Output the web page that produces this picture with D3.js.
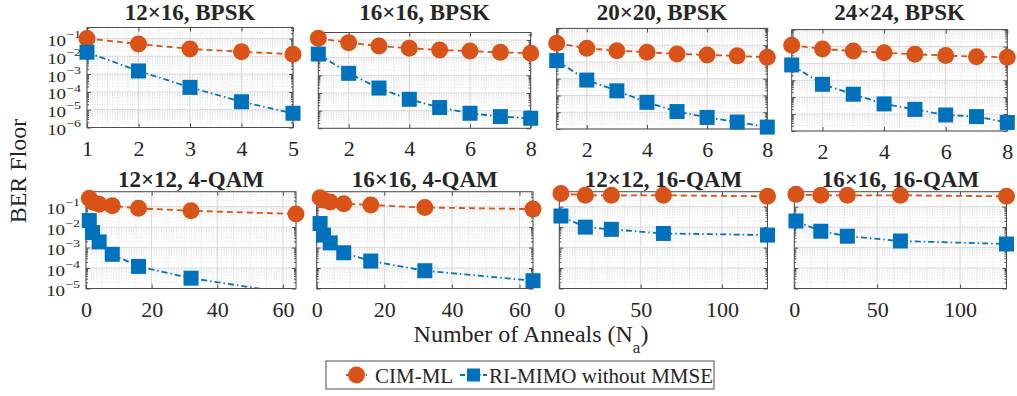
<!DOCTYPE html>
<html>
<head>
<meta charset="utf-8">
<script src="https://cdn.jsdelivr.net/npm/d3@7"></script>
<style>
body { margin: 0; background: #fff; }
svg text { font-family: "Liberation Serif", "Times New Roman", Times, "DejaVu Serif", serif !important; fill: #262626; }
</style>
</head>
<body>
<svg id="chart" width="1017" height="396"></svg>
<script>
// ---- data ----
const titles = ["12\u00d716, BPSK", "16\u00d716, BPSK", "20\u00d720, BPSK", "24\u00d724, BPSK",
                "12\u00d712, 4-QAM", "16\u00d716, 4-QAM", "12\u00d712, 16-QAM", "16\u00d716, 16-QAM"];

const annealsBpsk5 = [1, 2, 3, 4, 5];
const annealsBpsk8 = [1, 2, 3, 4, 5, 6, 7, 8];
const anneals4qam = [1, 2, 4, 8, 16, 32, 64];
const anneals16qam = [1, 16, 32, 64, 128];

const cimML = [
  [1.0e-1, 4.9e-2, 2.6e-2, 1.8e-2, 1.3e-2],
  [1.26e-1, 7.1e-2, 4.6e-2, 3.4e-2, 2.7e-2, 2.4e-2, 2.0e-2, 1.8e-2],
  [1.3e-1, 6.5e-2, 4.7e-2, 3.8e-2, 3.0e-2, 2.6e-2, 2.3e-2, 1.9e-2],
  [1.2e-1, 7.1e-2, 5.4e-2, 4.3e-2, 3.5e-2, 2.9e-2, 2.5e-2, 2.3e-2],
  [2.6e-1, 1.7e-1, 1.3e-1, 1.1e-1, 8.3e-2, 6.3e-2, 4.4e-2],
  [2.7e-1, 2.1e-1, 1.7e-1, 1.4e-1, 1.2e-1, 9.1e-2, 7.6e-2],
  [4.4e-1, 3.6e-1, 3.6e-1, 3.6e-1, 3.2e-1],
  [4.0e-1, 3.6e-1, 3.6e-1, 3.6e-1, 3.2e-1]
];

const riMimo = [
  [1.7e-2, 1.5e-3, 1.8e-4, 2.8e-5, 6.3e-6],
  [1.6e-2, 1.3e-3, 1.9e-4, 4.4e-5, 1.5e-5, 7.1e-6, 4.6e-6, 3.7e-6],
  [1.2e-2, 8.3e-4, 1.9e-4, 3.9e-5, 1.1e-5, 4.9e-6, 2.6e-6, 1.3e-6],
  [8.1e-3, 5.8e-4, 1.5e-4, 4.0e-5, 1.9e-5, 8.9e-6, 7.1e-6, 3.2e-6],
  [2.1e-2, 5.4e-3, 1.9e-3, 4.7e-4, 1.2e-4, 3.2e-5, 5.2e-6],
  [1.5e-2, 4.1e-3, 1.7e-3, 5.6e-4, 2.2e-4, 7.4e-5, 2.4e-5],
  [3.5e-2, 1.0e-2, 7.8e-3, 4.9e-3, 4.1e-3],
  [2.0e-2, 6.3e-3, 3.6e-3, 2.1e-3, 1.5e-3]
];

const annealsPerPanel = [annealsBpsk5, annealsBpsk8, annealsBpsk8, annealsBpsk8,
                         anneals4qam, anneals4qam, anneals16qam, anneals16qam];
const xDomains = [[1, 5], [1, 8], [1, 8], [1, 8], [0, 64], [0, 64], [0, 128], [0, 128]];
const xTickValues = [[1, 2, 3, 4, 5], [2, 4, 6, 8], [2, 4, 6, 8], [2, 4, 6, 8],
                     [0, 20, 40, 60], [0, 20, 40, 60], [0, 50, 100], [0, 50, 100]];
const yDomains = [[1e-6, 0.415], [1e-6, 0.266], [1e-6, 1], [1e-6, 1],
                  [1e-5, 0.54], [1e-5, 0.54], [1e-5, 0.54], [1e-5, 0.54]];
const legendLabels = ["CIM-ML", "RI-MIMO without MMSE"];

// ---- layout ----
const layout = [
  {l: 87, r: 293, t: 27.5, b: 127.5, minor: 0.2},
  {l: 318.3, r: 530.7, t: 32.5, b: 128.3, minor: 0.5},
  {l: 556.7, r: 767.3, t: 28.4, b: 129, minor: 0.5},
  {l: 791.7, r: 1007.3, t: 29.6, b: 131, minor: 0.5},
  {l: 86, r: 296, t: 191.7, b: 288.5, minor: 5},
  {l: 316.7, r: 533, t: 191.7, b: 288.5, minor: 5},
  {l: 559.3, r: 767.5, t: 191.7, b: 288.5, minor: 10},
  {l: 794.3, r: 1006.5, t: 191.7, b: 288.5, minor: 10}
];

const serif = '"Liberation Serif", "Times New Roman", Times, serif';
const orange = "#D95319", blue = "#0072BD", axisCol = "#4d4d4d";
const svg = d3.select("#chart");
const defs = svg.append("defs");

layout.forEach((p, i) => {
  const x = d3.scaleLinear().domain(xDomains[i]).range([p.l, p.r]);
  const y = d3.scaleLog().domain(yDomains[i]).range([p.b, p.t]);
  const g = svg.append("g");

  defs.append("clipPath").attr("id", "clip" + i)
    .append("rect").attr("x", p.l).attr("y", p.t).attr("width", p.r - p.l).attr("height", p.b - p.t);

  // grids
  const [ylo, yhi] = yDomains[i];
  const k0 = Math.floor(Math.log10(ylo)), k1 = Math.ceil(Math.log10(yhi));
  const majorY = [], minorY = [];
  for (let k = k0; k <= k1; k++) {
    const v = +("1e" + k);
    if (v >= ylo && v <= yhi) majorY.push(v);
    for (let m = 2; m < 10; m++) {
      const w = +(m + "e" + k);
      if (w > ylo && w < yhi) minorY.push(w);
    }
  }
  const minorX = d3.range(xDomains[i][0], xDomains[i][1] + 1e-9, p.minor)
    .filter(v => xTickValues[i].indexOf(Math.round(v * 1000) / 1000) < 0);

  g.selectAll(".mgy").data(minorY).join("line")
    .attr("x1", p.l).attr("x2", p.r).attr("y1", d => y(d)).attr("y2", d => y(d))
    .attr("stroke", "#cfcfcf").attr("stroke-width", 0.6).attr("stroke-dasharray", "1,1.5");
  g.selectAll(".mgx").data(minorX).join("line")
    .attr("y1", p.t).attr("y2", p.b).attr("x1", d => x(d)).attr("x2", d => x(d))
    .attr("stroke", "#cfcfcf").attr("stroke-width", 0.6).attr("stroke-dasharray", "1,1.5");
  g.selectAll(".gy").data(majorY).join("line")
    .attr("x1", p.l).attr("x2", p.r).attr("y1", d => y(d)).attr("y2", d => y(d))
    .attr("stroke", "#d9d9d9").attr("stroke-width", 1);
  g.selectAll(".gx").data(xTickValues[i]).join("line")
    .attr("y1", p.t).attr("y2", p.b).attr("x1", d => x(d)).attr("x2", d => x(d))
    .attr("stroke", "#d9d9d9").attr("stroke-width", 1);

  // axes (inward ticks on all four sides)
  const xb = g.append("g").attr("transform", `translate(0,${p.b})`)
    .call(d3.axisBottom(x).tickValues(xTickValues[i]).tickSize(-4).tickFormat(d3.format("d")));
  xb.selectAll("text").attr("y", 28).attr("dy", null).style("font-size", "22px");
  g.append("g").attr("transform", `translate(0,${p.t})`)
    .call(d3.axisTop(x).tickValues(xTickValues[i]).tickSize(-4).tickFormat(""));

  const yl = g.append("g").attr("transform", `translate(${p.l},0)`)
    .call(d3.axisLeft(y).tickValues(majorY).tickSize(-4).tickFormat(""));
  g.append("g").attr("transform", `translate(${p.r},0)`)
    .call(d3.axisRight(y).tickValues(majorY).tickSize(-4).tickFormat(""));
  g.append("g").attr("transform", `translate(${p.l},0)`)
    .call(d3.axisLeft(y).tickValues(minorY).tickSize(-2).tickFormat(""));
  g.append("g").attr("transform", `translate(${p.r},0)`)
    .call(d3.axisRight(y).tickValues(minorY).tickSize(-2).tickFormat(""));

  if (i === 0 || i === 4) {
    yl.selectAll(".tick").each(function(d) {
      const t = d3.select(this).append("text")
        .attr("transform", "translate(-6,7) scale(1,0.78)").attr("text-anchor", "end")
        .style("font-size", "19px").attr("fill", "#262626");
      t.append("tspan").text("10");
      t.append("tspan").attr("dy", -10).style("font-size", "14px")
        .text("\u2212" + Math.abs(Math.round(Math.log10(d))));
    });
  }
  g.selectAll("g").attr("font-family", null);
  g.selectAll(".domain").remove();
  g.selectAll(".tick line").attr("stroke", axisCol);

  g.append("rect").attr("x", p.l).attr("y", p.t).attr("width", p.r - p.l).attr("height", p.b - p.t)
    .attr("fill", "none").attr("stroke", axisCol).attr("stroke-width", 1);

  // series
  const xs = annealsPerPanel[i];
  const line = d3.line().x(d => x(d[0])).y(d => y(d[1]));
  const cim = xs.map((v, j) => [v, cimML[i][j]]);
  const ri = xs.map((v, j) => [v, riMimo[i][j]]);
  const inside = d => d[1] >= ylo && d[1] <= yhi;

  g.append("path").datum(cim).attr("d", line).attr("clip-path", `url(#clip${i})`)
    .attr("fill", "none").attr("stroke", orange).attr("stroke-width", 1.8).attr("stroke-dasharray", "6,4");
  g.append("path").datum(ri).attr("d", line).attr("clip-path", `url(#clip${i})`)
    .attr("fill", "none").attr("stroke", blue).attr("stroke-width", 1.8).attr("stroke-dasharray", "6,3,1.5,3");

  g.selectAll(".cm").data(cim.filter(inside)).join("circle")
    .attr("cx", d => x(d[0])).attr("cy", d => y(d[1])).attr("r", 8.5).attr("fill", orange);
  g.selectAll(".rm").data(ri.filter(inside)).join("rect")
    .attr("x", d => x(d[0]) - 7.5).attr("y", d => y(d[1]) - 7.5)
    .attr("width", 15).attr("height", 15).attr("fill", blue);

  svg.append("text").attr("x", (p.l + p.r) / 2).attr("y", i < 4 ? 19.5 : 186.5)
    .attr("text-anchor", "middle").style("font-size", "23px").style("font-weight", "bold")
    .text(titles[i]);
});

// axis labels
svg.append("text").attr("transform", "translate(26,171) rotate(-90)")
  .attr("text-anchor", "middle").style("font-size", "24px").text("BER Floor");
const xl = svg.append("text").attr("x", 531).attr("y", 342).attr("text-anchor", "middle").style("font-size", "24px");
xl.append("tspan").text("Number of Anneals (N");
xl.append("tspan").attr("dy", 11).style("font-size", "17px").text("a");
xl.append("tspan").attr("dy", -11).text(")");

// legend
svg.append("rect").attr("x", 326).attr("y", 361).attr("width", 388).attr("height", 28)
  .attr("fill", "#fff").attr("stroke", axisCol).attr("stroke-width", 1);
svg.append("line").attr("x1", 346).attr("x2", 367).attr("y1", 375).attr("y2", 375)
  .attr("stroke", orange).attr("stroke-width", 1.8).attr("stroke-dasharray", "6,4");
svg.append("circle").attr("cx", 356.5).attr("cy", 375).attr("r", 8.5).attr("fill", orange);
svg.append("text").attr("x", 375).attr("y", 382.5).style("font-size", "21px").text(legendLabels[0]);
svg.append("line").attr("x1", 460).attr("x2", 487).attr("y1", 375).attr("y2", 375)
  .attr("stroke", blue).attr("stroke-width", 1.8).attr("stroke-dasharray", "5,2.5,1.5,2.5");
svg.append("rect").attr("x", 467).attr("y", 368.5).attr("width", 13).attr("height", 13).attr("fill", blue);
svg.append("text").attr("x", 489).attr("y", 382.5).style("font-size", "21px").text(legendLabels[1]);

svg.selectAll("text").style("font-family", serif);
</script>
</body>
</html>
